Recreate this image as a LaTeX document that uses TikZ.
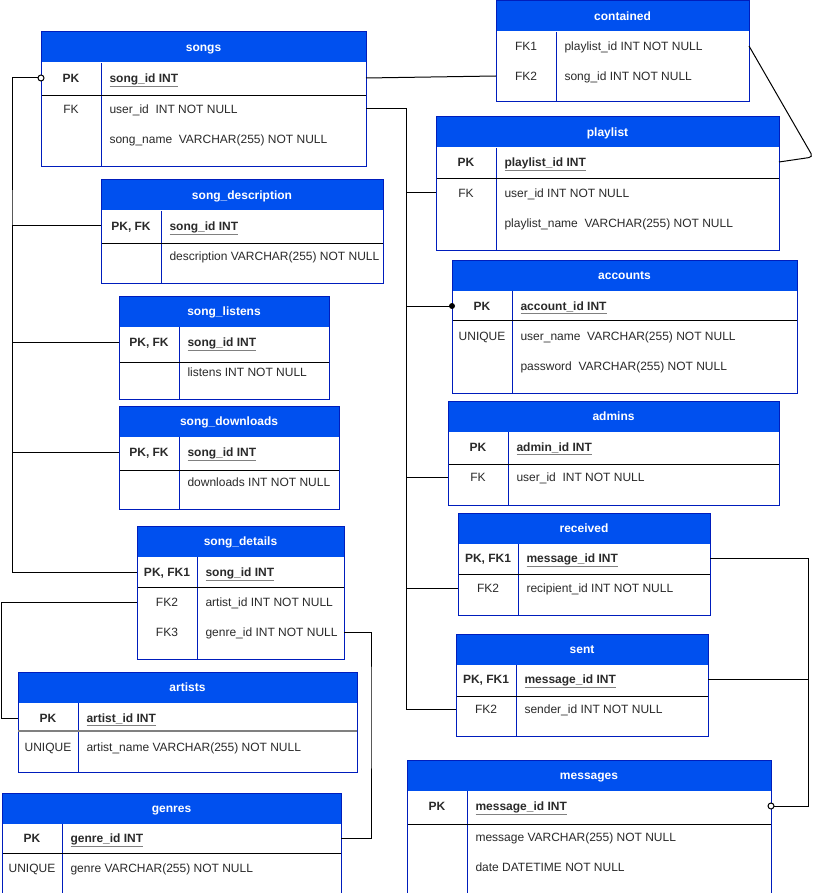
\documentclass[tikz,border=0pt]{standalone}
\usepackage{fontspec}
\setmainfont{Liberation Sans}
\usetikzlibrary{calc}
\definecolor{headblue}{HTML}{0050EF}
\definecolor{frameblue}{HTML}{001DBC}
\definecolor{fieldtext}{HTML}{2A2A2A}
\newcommand{\erfont}{\fontsize{12}{14.4}\selectfont}
% primary key field: grey underline under the name
\newcommand{\pkname}[1]{\color{gray}\underline{{\color{fieldtext}#1}}}
% name, x, y, width, key row height, rest height, title
\newcommand{\dbtable}[7]{%
  \node[tablehead, minimum width=#4] (#1) at (#2,#3) {#7};
  \node[tablerow, minimum width=#4, minimum height=#5] (#1Top) at (#1.south west) {};
  \node[tablerow, minimum width=#4, minimum height=#6] (#1Rest) at (#1Top.south west) {};
  \draw[keyline] ([xshift=60]#1Top.north west) -- ([xshift=60]#1Rest.south west);
  \draw[rowline] (#1Top.south west) -- (#1Top.south east);
  \draw[tableframe] (#1.north west) rectangle (#1Rest.south east);
}

\begin{document}
\begin{tikzpicture}[x=1pt,y=-1pt,line width=1pt,
    tablehead/.style={anchor=north west,fill=headblue,text=white,inner sep=0,
      minimum height=30,font=\erfont\bfseries,text height=11pt,text depth=2.5pt},
    tablerow/.style={anchor=north west,fill=white,inner sep=0},
    keyline/.style={draw=frameblue},
    rowline/.style={draw=black},
    tableframe/.style={draw=frameblue},
    key/.style={text=fieldtext,inner sep=0,font=\erfont,text height=11pt,text depth=2.5pt},
    pkkey/.style={key,font=\erfont\bfseries},
    field/.style={key,anchor=west},
    pkfield/.style={field,font=\erfont\bfseries},
    link/.style={draw=black}]
  \useasboundingbox (0,0) rectangle (818,893);

  % tables on the left
  \dbtable{songs}{41}{32}{324}{32}{70}{songs}
  \node[pkkey] (songsPK) at (71,78) {PK};
  \node[pkfield] at (109,78) {\pkname{song\_id INT}};
  \node[key] (songsFK) at (71,109) {FK};
  \node[field] at (109,109) {user\_id\ \ INT NOT NULL};
  \node[field] at (109,139) {song\_name\ \ VARCHAR(255) NOT NULL};

  \dbtable{desc}{101}{180}{281}{31}{39}{song\_description}
  \node[pkkey] (descPK) at (131,226) {PK, FK};
  \node[pkfield] at (169,226) {\pkname{song\_id INT}};
  \node[field] at (169,256) {description VARCHAR(255) NOT NULL};

  \dbtable{listens}{119}{296}{209}{34}{36}{song\_listens}
  \node[pkkey] (listensPK) at (149,342) {PK, FK};
  \node[pkfield] at (187,342) {\pkname{song\_id INT}};
  \node[field] at (187,372) {listens INT NOT NULL};

  \dbtable{downloads}{119}{406}{219}{32}{38}{song\_downloads}
  \node[pkkey] (downloadsPK) at (149,452) {PK, FK};
  \node[pkfield] at (187,452) {\pkname{song\_id INT}};
  \node[field] at (187,482) {downloads INT NOT NULL};

  \dbtable{details}{137}{526}{206}{29}{71}{song\_details}
  \node[pkkey] (detailsPK) at (167,572) {PK, FK1};
  \node[pkfield] at (205,572) {\pkname{song\_id INT}};
  \node[key] (detailsFKa) at (167,602) {FK2};
  \node[field] at (205,602) {artist\_id INT NOT NULL};
  \node[key] (detailsFKb) at (167,632) {FK3};
  \node[field] at (205,632) {genre\_id INT NOT NULL};

  \dbtable{artists}{18}{672}{338}{27}{40}{artists}
  \draw[gray,line width=2pt] (artistsTop.south west) -- (artistsTop.south east);
  \node[pkkey] (artistsPK) at (48,718) {PK};
  \node[pkfield] at (86,718) {\pkname{artist\_id INT}};
  \node[key] at (48,747) {UNIQUE};
  \node[field] at (86,747) {artist\_name VARCHAR(255) NOT NULL};

  \dbtable{genres}{2}{793}{338}{28}{41}{genres}
  \node[pkkey] (genresPK) at (32,838) {PK};
  \node[pkfield] at (70,838) {\pkname{genre\_id INT}};
  \node[key] at (32,868) {UNIQUE};
  \node[field] at (70,868) {genre VARCHAR(255) NOT NULL};

  % tables on the right
  \node[tablehead, minimum width=252] (contained) at (496,1) {contained};
  \node[tablerow, minimum width=252, minimum height=69] (containedRest) at (contained.south west) {};
  \draw[keyline] ([xshift=60]containedRest.north west) -- ([xshift=60]containedRest.south west);
  \draw[tableframe] (contained.north west) rectangle (containedRest.south east);
  \node[key] (containedFKa) at (526,46) {FK1};
  \node[field] at (564,46) {playlist\_id INT NOT NULL};
  \node[key] (containedFKb) at (526,76) {FK2};
  \node[field] at (564,76) {song\_id INT NOT NULL};

  \dbtable{playlist}{436}{117}{342}{30}{70}{playlist}
  \node[pkkey] (playlistPK) at (466,162) {PK};
  \node[pkfield] at (504,162) {\pkname{playlist\_id INT}};
  \node[key] (playlistFK) at (466,193) {FK};
  \node[field] at (504,193) {user\_id INT NOT NULL};
  \node[field] at (504,223) {playlist\_name\ \ VARCHAR(255) NOT NULL};

  \dbtable{accounts}{452}{260}{344}{28}{72}{accounts}
  \node[pkkey] (accountsPK) at (482,306) {PK};
  \node[pkfield] at (520,306) {\pkname{account\_id INT}};
  \node[key] at (482,336) {UNIQUE};
  \node[field] at (520,336) {user\_name\ \ VARCHAR(255) NOT NULL};
  \node[field] at (520,366) {password\ \ VARCHAR(255) NOT NULL};

  \dbtable{admins}{448}{401}{330}{31}{40}{admins}
  \node[pkkey] (adminsPK) at (478,447) {PK};
  \node[pkfield] at (516,447) {\pkname{admin\_id INT}};
  \node[key] (adminsFK) at (478,477) {FK};
  \node[field] at (516,477) {user\_id\ \ INT NOT NULL};

  \dbtable{received}{458}{513}{251}{29}{40}{received}
  \node[pkkey] (receivedPK) at (488,558) {PK, FK1};
  \node[pkfield] at (526,558) {\pkname{message\_id INT}};
  \node[key] (receivedFK) at (488,588) {FK2};
  \node[field] at (526,588) {recipient\_id INT NOT NULL};

  \dbtable{sent}{456}{634}{251}{30}{39}{sent}
  \node[pkkey] (sentPK) at (486,679) {PK, FK1};
  \node[pkfield] at (524,679) {\pkname{message\_id INT}};
  \node[key] (sentFK) at (486,709) {FK2};
  \node[field] at (524,709) {sender\_id INT NOT NULL};

  \dbtable{messages}{407}{760}{363}{32}{70}{messages}
  \node[pkkey] (messagesPK) at (437,806) {PK};
  \node[pkfield] at (475,806) {\pkname{message\_id INT}};
  \node[field] at (475,837) {message VARCHAR(255) NOT NULL};
  \node[field] at (475,867) {date DATETIME NOT NULL};

  % connectors
  \coordinate (songTrunk) at (12,300);
  \coordinate (userTrunk) at (406,400);
  \coordinate (artistTrunk) at (1.5,650);
  \coordinate (genreTrunk) at (371,700);
  \coordinate (messageTrunk) at (808,650);
  \coordinate (playlistBend) at (813,157);

  \path[link] (songsPK -| songs.west) -| (songTrunk) |- (detailsPK -| details.west)
    (descPK -| desc.west) -| (songTrunk)
    (listensPK -| listens.west) -| (songTrunk)
    (downloadsPK -| downloads.west) -| (songTrunk);
  \draw[fill=white] (songsPK -| songs.west) circle[radius=3];

  \path[link] (songsPK -| songs.east) -- (containedFKb -| contained.west);
  \path[link,rounded corners=4] (containedFKa -| contained.east) -- (playlistBend)
    -- (playlistPK -| playlist.east);

  \path[link] (songsFK -| songs.east) -| (userTrunk) |- (sentFK -| sent.west)
    (playlistFK -| playlist.west) -| (userTrunk)
    (accountsPK -| accounts.west) -| (userTrunk)
    (adminsFK -| admins.west) -| (userTrunk)
    (receivedFK -| received.west) -| (userTrunk);
  \fill (accountsPK -| accounts.west) circle[radius=3];

  \path[link] (detailsFKa -| details.west) -| (artistTrunk) |- (artistsPK -| artists.west);
  \path[link] (detailsFKb -| details.east) -| (genreTrunk) |- (genresPK -| genres.east);

  \path[link] (messagesPK -| messages.east) -| (messageTrunk) |- (receivedPK -| received.east)
    (sentPK -| sent.east) -| (messageTrunk);
  \draw[fill=white] (messagesPK -| messages.east) circle[radius=3];
\end{tikzpicture}
\end{document}
